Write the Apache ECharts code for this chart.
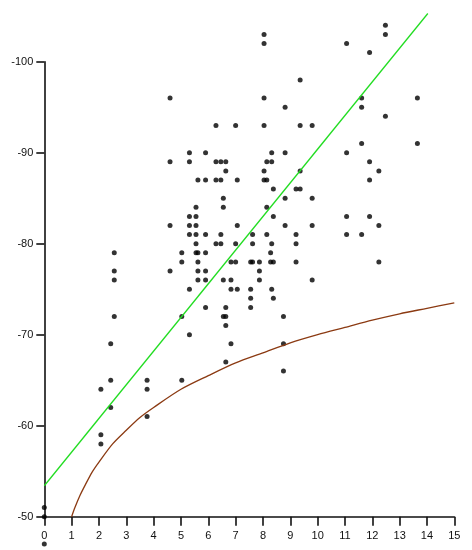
<!DOCTYPE html>
<html>
<head>
<meta charset="utf-8">
<script src="https://cdn.jsdelivr.net/npm/echarts@6/dist/echarts.min.js"></script>
<style>
  html, body { margin: 0; padding: 0; background: #fff; }
  #chart { width: 472px; height: 550px; }
</style>
</head>
<body>
<div id="chart"></div>
<script>
  // scatter points grouped by column (x)
  var columnX = [0, 2.07, 2.43, 2.56, 3.76, 4.6, 5.03, 5.31, 5.55, 5.62, 5.9,
    6.28, 6.46, 6.55, 6.64, 6.83, 7.0, 7.06, 7.55, 7.62, 7.87, 8.04, 8.14,
    8.28, 8.32, 8.38, 8.75, 8.81, 9.21, 9.36, 9.8, 11.06, 11.61, 11.9, 12.24,
    12.48, 13.65]
  var columnY = [
    [-51, -50, -47],
    [-64, -59, -58],
    [-65, -62, -69],
    [-79, -77, -76, -72],
    [-65, -64, -61],
    [-96, -89, -82, -77],
    [-79, -78, -72, -65],
    [-90, -89, -83, -82, -81, -75, -70],
    [-84, -83, -82, -81, -80, -79],
    [-87, -79, -78, -77, -76],
    [-90, -87, -81, -79, -77, -76, -73],
    [-93, -89, -87, -80],
    [-89, -87, -81, -80],
    [-85, -84, -76, -72],
    [-89, -88, -73, -72, -71, -67],
    [-78, -76, -75, -69],
    [-93, -80, -78],
    [-87, -82, -75],
    [-78, -75, -74, -73],
    [-81, -80, -78],
    [-78, -77, -76],
    [-103, -102, -96, -93, -88, -87],
    [-89, -87, -84, -81],
    [-79, -78],
    [-90, -89, -80, -75],
    [-86, -83, -78, -74],
    [-72, -69, -66],
    [-95, -90, -85, -82],
    [-86, -81, -80, -78],
    [-98, -93, -88, -86],
    [-93, -85, -82, -76],
    [-102, -90, -83, -81],
    [-96, -95, -91, -81],
    [-101, -89, -87, -83],
    [-88, -82, -78],
    [-104, -103, -94],
    [-96, -91]
  ]

  // green straight line (end points)
  var lineX = [0, 14.03]
  var lineY = [-53.4, -105.3]

  // brown curve, read along its path
  var curveX = [1, 1.12, 1.3, 1.5, 1.75, 2, 2.5, 3, 3.5, 4, 5, 6, 7, 8, 9, 10, 11, 12, 13, 14, 15]
  var curveY = [-50, -51.0, -52.3, -53.5, -54.9, -56.0, -58.0, -59.5, -60.9, -62.0,
    -64.0, -65.5, -66.9, -68.0, -69.1, -70.0, -70.8, -71.6, -72.3, -72.9, -73.5]

  var points = []
  columnX.forEach(function(x, i) {
    columnY[i].forEach(function(y) {
      points.push([x, y])
    })
  })
  var linePts = lineX.map(function(x, i) { return [x, lineY[i]] })
  var curvePts = curveX.map(function(x, i) { return [x, curveY[i]] })

  var axisStyle = { lineStyle: { color: '#111', width: 1.6 } }
  var labelStyle = { color: '#111', fontFamily: 'Liberation Sans, Arial', fontSize: 11 }

  var chart = echarts.init(document.getElementById('chart'))
  chart.setOption({
    animation: false,
    backgroundColor: '#fff',
    grid: { left: 44.3, right: 17.7, top: 61.7, bottom: 33.3 },
    xAxis: {
      type: 'value', min: 0, max: 15, interval: 1,
      axisLine: axisStyle,
      axisTick: { show: true, length: 9, lineStyle: { color: '#111', width: 1.6 } },
      axisLabel: Object.assign({ margin: 14 }, labelStyle),
      splitLine: { show: false }
    },
    yAxis: {
      type: 'value', min: -100, max: -50, interval: 10, inverse: true,
      axisLine: Object.assign({ show: true }, axisStyle),
      axisTick: { show: true, length: 8, lineStyle: { color: '#111', width: 1.6 } },
      axisLabel: Object.assign({ margin: 11 }, labelStyle),
      splitLine: { show: false }
    },
    series: [
      {
        type: 'line', data: curvePts, smooth: 0.3,
        symbol: 'none', clip: false,
        lineStyle: { color: '#8b3a12', width: 1.3 }
      },
      {
        type: 'line', data: linePts, symbol: 'none', clip: false,
        lineStyle: { color: '#22dd22', width: 1.3 }
      },
      {
        type: 'scatter', data: points, symbol: 'circle', symbolSize: 5, clip: false,
        itemStyle: { color: '#000' }
      }
    ]
  })
</script>
</body>
</html>
